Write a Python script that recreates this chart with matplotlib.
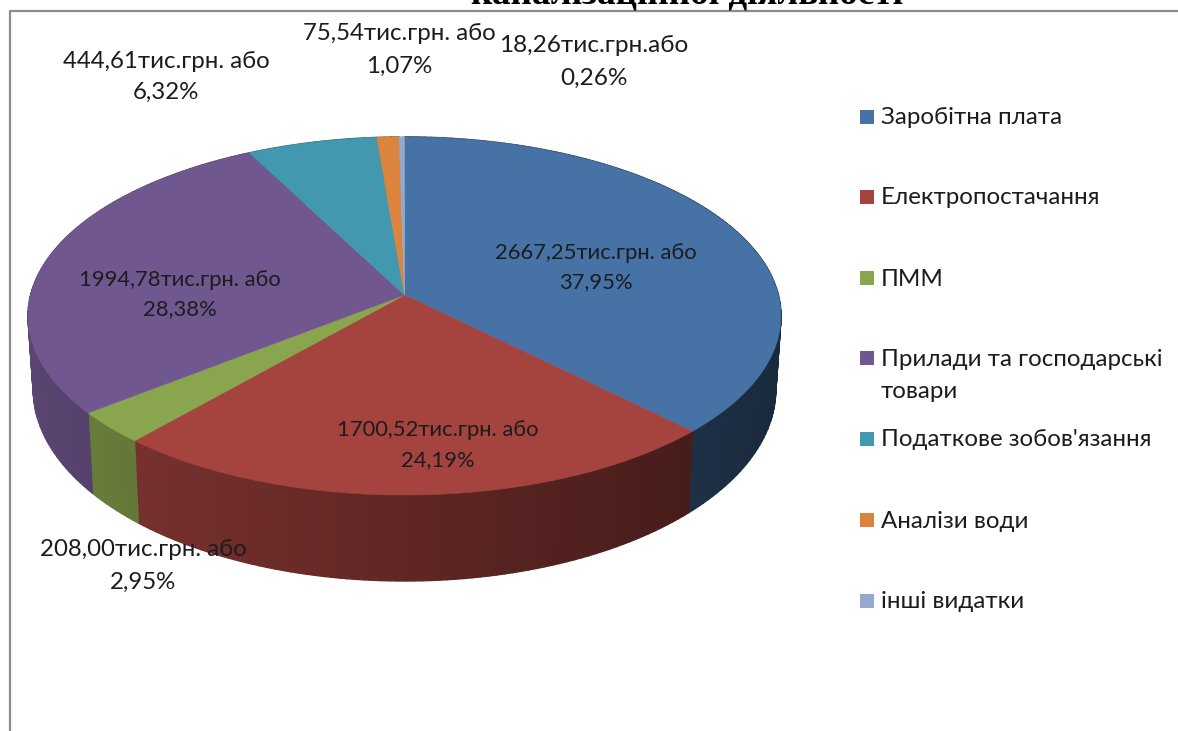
import numpy as np
import matplotlib
matplotlib.use('Agg')
import matplotlib.pyplot as plt
import matplotlib.transforms as mtransforms
from matplotlib.collections import PolyCollection
from matplotlib.colors import to_rgb
from matplotlib.patches import Rectangle

plt.rcParams['font.family'] = ['Lato', 'Open Sans', 'DejaVu Sans']

# ── Data ────────────────────────────────────────────────────────────────
categories = ['Заробітна плата', 'Електропостачання', 'ПММ',
              'Прилади та господарські\nтовари', "Податкове зобов'язання",
              'Аналізи води', 'інші видатки']
values = [2667.25, 1700.52, 208.00, 1994.78, 444.61, 75.54, 18.26]
value_labels = ['2667,25тис.грн. або', '1700,52тис.грн. або', '208,00тис.грн. або',
                '1994,78тис.грн. або', '444,61тис.грн. або', '75,54тис.грн. або',
                '18,26тис.грн.або']
percent_labels = ['37,95%', '24,19%', '2,95%', '28,38%', '6,32%', '1,07%', '0,26%']
colors = ['#4672A6', '#A5433F', '#89A54E', '#71578F', '#4298AF', '#DB843D', '#93A9CF']


# ── Perspective of the pie disc, unit circle -> picture pixels ──────────
class DiscProjection(mtransforms.Transform):
    input_dims = 2
    output_dims = 2

    def __init__(self, lower=False):
        super().__init__()
        self.lower = lower

    def transform_non_affine(self, xy):
        xy = np.asarray(xy, dtype=float)
        s = 1 / (1 + 0.117 * xy[:, 1])
        x = 373.9 * xy[:, 0] * s
        y = -176.6 * xy[:, 1] * s
        if self.lower:
            x = x * 0.986
            y = y + 72 + 0.07 * y
        return np.column_stack([404.5 + x, 295 + y])


fig = plt.figure(figsize=(11.78, 7.31), dpi=100)
ax = fig.add_axes([0, 0, 1, 1])

# ── Top of the pie ──────────────────────────────────────────────────────
wedges, _ = ax.pie(values, colors=colors, startangle=90, counterclock=False,
                   wedgeprops={'linewidth': 0, 'zorder': 3})
ax.set_aspect('auto')
ax.set_xlim(0, 1178)
ax.set_ylim(731, 0)
ax.axis('off')

top_proj = DiscProjection()
low_proj = DiscProjection(lower=True)
for w, color in zip(wedges, colors):
    w.set_transform(top_proj + ax.transData)
    w.set_edgecolor(color)
    w.set_linewidth(0.4)

# ── Side wall, thin strips so the shade can change along it ─────────────
edges = np.cumsum([0] + values) / sum(values) * 2 * np.pi
for i, color in enumerate(colors):
    n = max(int((edges[i + 1] - edges[i]) / 0.02), 1)
    th = np.linspace(edges[i], edges[i + 1], n + 1)
    pts = np.column_stack([np.sin(th), np.cos(th)])
    up = top_proj.transform(pts)
    lo = low_proj.transform(pts)
    polys = []
    cols = []
    for j in range(n):
        polys.append([up[j], up[j + 1], lo[j + 1], lo[j]])
        u = (pts[j, 0] + pts[j + 1, 0]) / 2
        cols.append(np.array(to_rgb(color)) * (0.58 - 0.22 * u))
    ax.add_collection(PolyCollection(polys, facecolors=cols, edgecolors=cols,
                                     linewidths=1.0, zorder=2))

# ── Frame and the cut off title ─────────────────────────────────────────
ax.plot([10, 10, 1178], [731, 11, 11], color='#8c8c8c', lw=1.6, zorder=1, clip_on=False)
ax.text(687, 4, 'каналізаційної діяльності', family='Liberation Serif', weight='bold',
        fontsize=26.7, ha='center', va='baseline', color='black')

# ── Data labels ─────────────────────────────────────────────────────────
label_pos = [(596, 253, 282), (438, 430, 460), (143, 550, 582), (180, 280, 309),
             (166, 61, 92), (399, 33, 66), (594, 46, 78)]
label_size = [15.8, 15.8, 17.3, 15.8, 17.3, 17.3, 17.6]
for (x, y1, y2), txt, pct, fs in zip(label_pos, value_labels, percent_labels, label_size):
    ax.text(x, y1, txt, fontsize=fs, ha='center', va='center', color='#1c1c1c', zorder=5)
    ax.text(x, y2, pct, fontsize=fs, ha='center', va='center', color='#1c1c1c', zorder=5)

# ── Legend ──────────────────────────────────────────────────────────────
legend_y = [118, 198, 279, 359, 440, 521, 602]
for y, name, color in zip(legend_y, categories, colors):
    ax.add_patch(Rectangle((860, y - 8), 14, 14, facecolor=color, edgecolor='none', zorder=5))
    lines = name.split('\n')
    ax.text(881, y, lines[0], fontsize=17.4, va='center', color='#1c1c1c', zorder=5)
    if len(lines) > 1:
        ax.text(881, y + 32, lines[1], fontsize=17.4, va='center', color='#1c1c1c', zorder=5)

fig.savefig('out.png', dpi=100)
